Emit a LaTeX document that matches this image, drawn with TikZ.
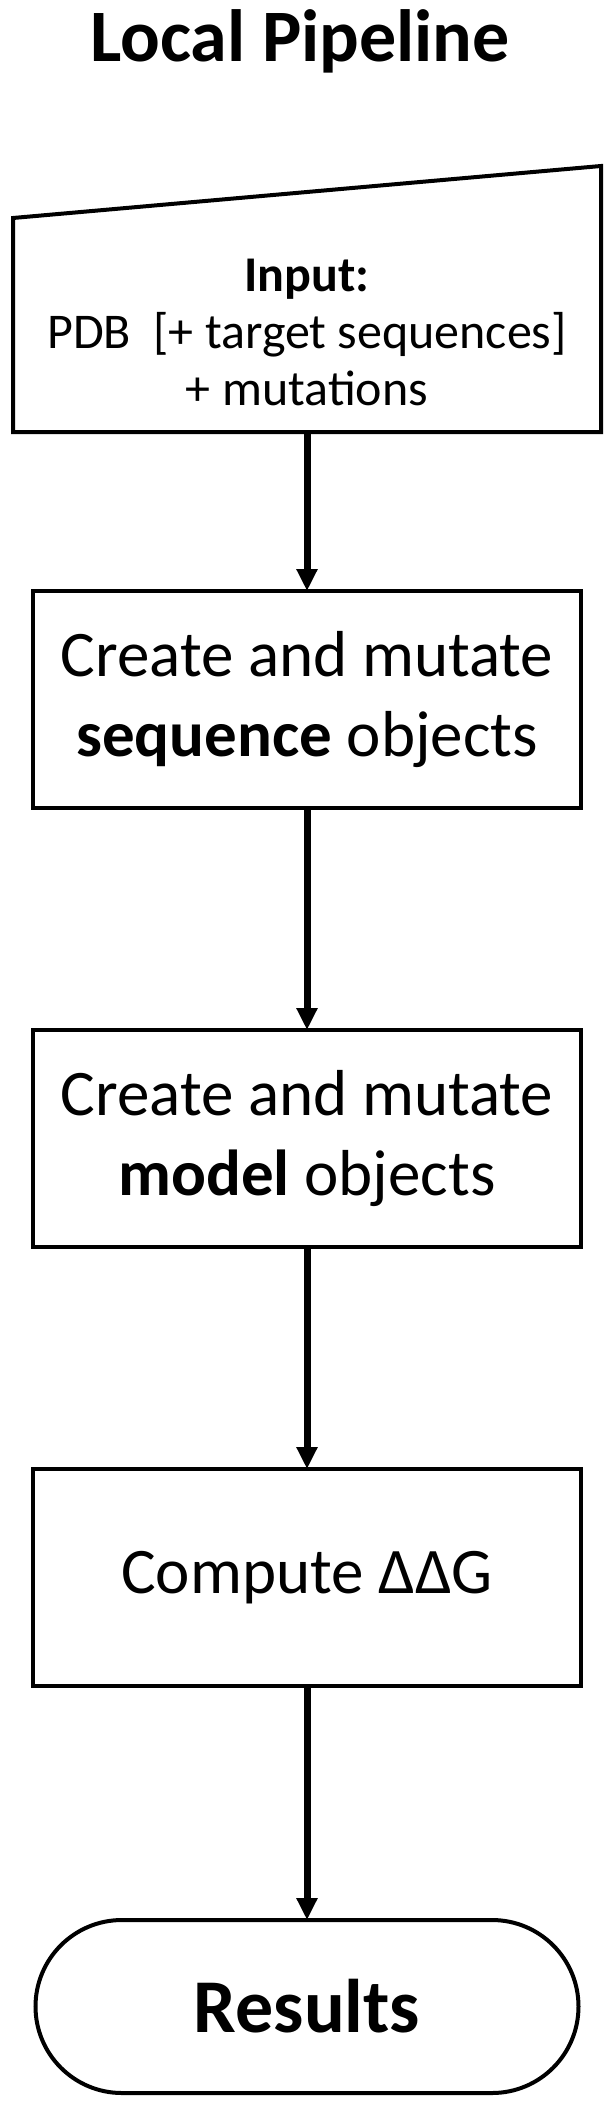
\documentclass[tikz,border=0pt]{standalone}
\usepackage{fontspec}
\setmainfont{Carlito}
\usetikzlibrary{arrows.meta,positioning,shapes.misc}

\begin{document}
\begin{tikzpicture}[
    node distance=222pt,
    stepbox/.style={
        rectangle, draw=black, line width=4pt, fill=white,
        minimum width=548pt, minimum height=217pt,
        align=center, font=\fontsize{65}{80}\selectfont,
        inner sep=0pt, outer sep=0pt
    },
    inbox/.style={
        rectangle, minimum width=588pt, minimum height=214pt,
        align=center, font=\fontsize{50}{57}\selectfont,
        inner sep=0pt, outer sep=0pt
    },
    endbox/.style={
        rounded rectangle, draw=black, line width=4pt,
        minimum width=543pt, minimum height=173pt,
        font=\fontsize{76}{90}\selectfont\bfseries,
        inner sep=0pt, outer sep=0pt
    },
    flow/.style={-{Triangle[length=22pt,width=20pt]}, line width=7pt},
]
\useasboundingbox (0,0) rectangle (615pt,-2108pt);

% Title
\node[font=\fontsize{74}{88}\selectfont\bfseries, anchor=base] (title) at (300pt,-62pt) {Local Pipeline};

% Input (manual input shape)
\node[inbox] (input) at (307pt,-325pt) {};
\node[font=\fontsize{50}{57}\selectfont, align=center] (intext) at (307pt,-332pt) {\textbf{Input:}\\PDB\ \ [+ target sequences]\\+ mutations};
\draw[line width=4pt] (input.south west) -- (input.north west)
    -- ([yshift=52pt]input.north east) -- (input.south east) -- cycle;

% Steps
\node[stepbox, below=159pt of input] (seq) {Create and mutate\\\textbf{sequence} objects};
\node[stepbox, below=of seq] (model) {Create and mutate\\\textbf{model} objects};
\node[stepbox, below=of model] (ddg) {Compute ΔΔG};
\node[endbox, below=234pt of ddg] (results) {Results};

% Arrows
\draw[flow] (input) -- (seq);
\draw[flow] (seq) -- (model);
\draw[flow] (model) -- (ddg);
\draw[flow] (ddg) -- (results);
\end{tikzpicture}
\end{document}
